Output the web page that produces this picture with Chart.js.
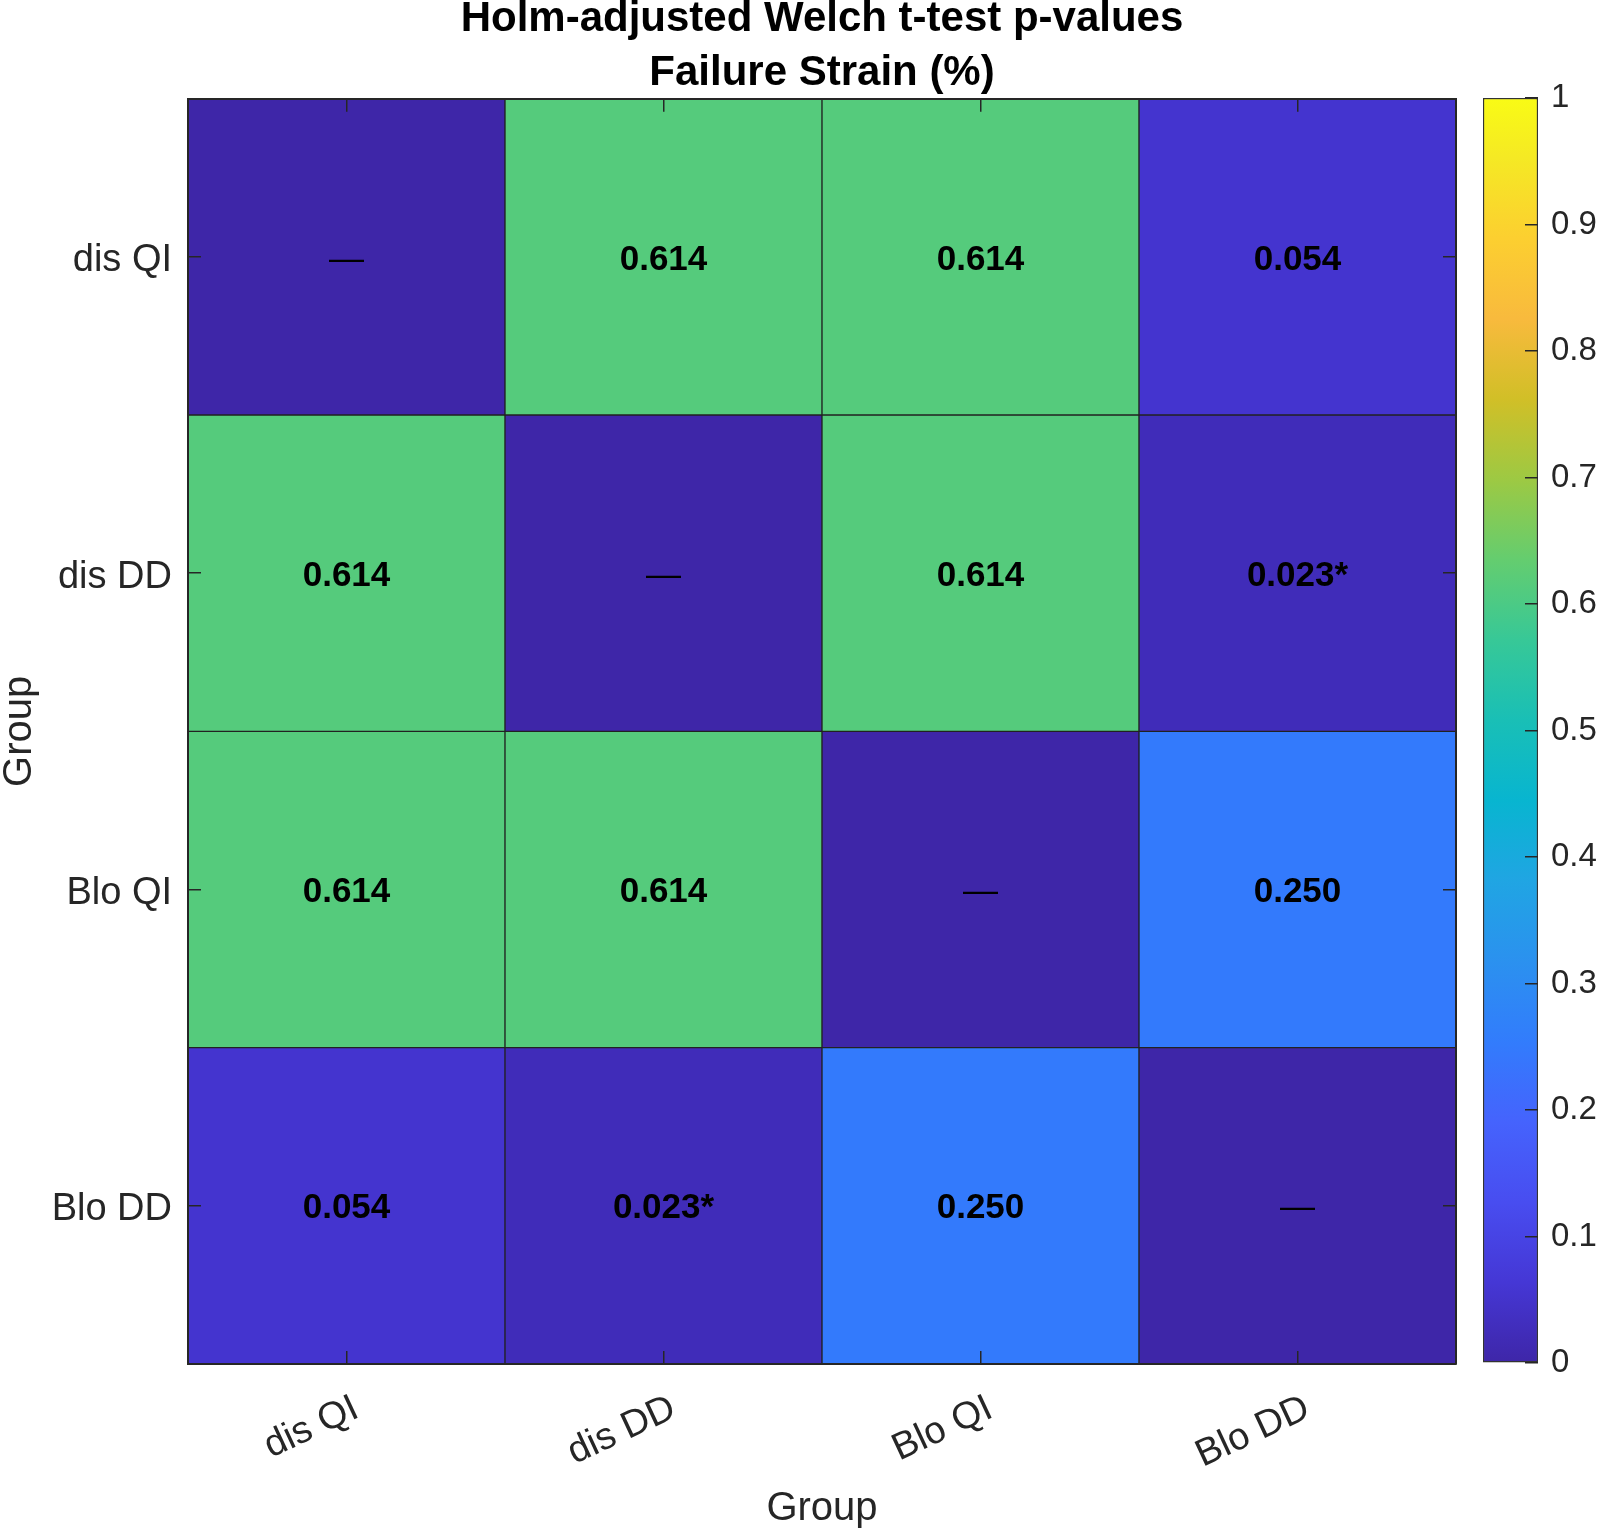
<!DOCTYPE html>
<html>
<head>
<meta charset="utf-8">
<script src="https://cdn.jsdelivr.net/npm/chart.js@4.4.1/dist/chart.umd.min.js"></script>
<style>
  html, body { margin: 0; padding: 0; background: #fff; }
  #wrap { position: relative; width: 1600px; height: 1530px; }
  #heatmap { position: absolute; left: 0; top: 0; width: 1600px; height: 1530px; }
  #colorbar { position: absolute; left: 1400px; top: 0; width: 200px; height: 1530px; }
</style>
</head>
<body>
<div id="wrap">
  <canvas id="heatmap" width="1600" height="1530"></canvas>
  <canvas id="colorbar" width="200" height="1530"></canvas>
</div>
<script>
const groups = ['dis QI', 'dis DD', 'Blo QI', 'Blo DD'];

// Holm-adjusted p-values, rows top to bottom, columns left to right (null = diagonal)
const pRow1 = [null, 0.614, 0.614, 0.054];
const pRow2 = [0.614, null, 0.614, 0.023];
const pRow3 = [0.614, 0.614, null, 0.250];
const pRow4 = [0.054, 0.023, 0.250, null];
const pValues = [pRow1, pRow2, pRow3, pRow4];

const colorbarTicks = [0, 0.1, 0.2, 0.3, 0.4, 0.5, 0.6, 0.7, 0.8, 0.9, 1];
const colorbarLabels = ['0', '0.1', '0.2', '0.3', '0.4', '0.5', '0.6', '0.7', '0.8', '0.9', '1'];

const titleLines = ['Holm-adjusted Welch t-test p-values', 'Failure Strain (%)'];

// parula colormap, every 4th entry of the 64 colour table
const parula = [
  [0.2422, 0.1504, 0.6603], [0.2706, 0.2147, 0.8364], [0.2813, 0.3006, 0.9414],
  [0.2699, 0.3892, 0.9906], [0.1963, 0.4847, 0.9892], [0.1687, 0.5703, 0.9359],
  [0.1248, 0.6459, 0.8883], [0.0297, 0.7082, 0.8163], [0.0964, 0.7500, 0.7120],
  [0.2161, 0.7843, 0.5923], [0.3909, 0.8029, 0.4354], [0.6174, 0.7876, 0.2612],
  [0.8203, 0.7498, 0.1535], [0.9728, 0.7298, 0.2394], [0.9892, 0.8136, 0.1885],
  [0.9597, 0.9135, 0.1423], [0.9769, 0.9839, 0.0805]
];
const parulaPos = parula.map((c, i) => Math.min(1, (i * 4) / 63));

function parulaColor(v) {
  v = Math.max(0, Math.min(1, v));
  let i = 0;
  while (i < parulaPos.length - 2 && v > parulaPos[i + 1]) i++;
  const t = (v - parulaPos[i]) / (parulaPos[i + 1] - parulaPos[i]);
  const a = parula[i], b = parula[i + 1];
  const rgb = a.map((x, k) => Math.round((x + (b[k] - x) * t) * 255));
  return 'rgb(' + rgb.join(',') + ')';
}

function cellText(v) {
  if (v === null) return '\u2014';
  return v.toFixed(3) + (v < 0.05 ? '*' : '');
}

const FONT = '"Liberation Sans", Arial, Helvetica, sans-serif';
Chart.defaults.font.family = FONT;
Chart.defaults.color = '#262626';

const rowTicks = groups.map((g, i) => ({ value: i + 0.5 }));

const cellLabels = {
  id: 'cellLabels',
  afterDatasetsDraw(chart) {
    const ctx = chart.ctx;
    ctx.save();
    ctx.textAlign = 'center';
    ctx.textBaseline = 'middle';
    ctx.fillStyle = '#000';
    chart.data.datasets.forEach((ds, r) => {
      chart.getDatasetMeta(r).data.forEach((bar, c) => {
        const v = pValues[r][c];
        const p = bar.getCenterPoint();
        ctx.font = (v === null ? '' : 'bold ') + '35px ' + FONT;
        ctx.fillText(cellText(v), p.x, p.y + 3);
      });
    });
    ctx.restore();
  }
};

// tick marks point inwards and are drawn over the cells
const tickGrid = {
  drawOnChartArea: false,
  tickLength: -13,
  color: '#262626',
  lineWidth: 1.5,
  z: 1
};
const edge = { display: true, color: '#262626', width: 2, z: 1 };

new Chart(document.getElementById('heatmap'), {
  type: 'bar',
  data: {
    labels: groups,
    datasets: pValues.map((row, r) => ({
      label: groups[r],
      data: row.map(() => [r, r + 1]),
      backgroundColor: row.map(v => parulaColor(v === null ? 0 : v)),
      borderColor: '#222222',
      borderWidth: 1,
      borderSkipped: false,
      barPercentage: 1,
      categoryPercentage: 1,
      grouped: false
    }))
  },
  options: {
    responsive: false,
    animation: false,
    events: [],
    layout: { padding: { left: 0, right: 144, top: 0, bottom: 0 } },
    plugins: {
      legend: { display: false },
      tooltip: { enabled: false },
      title: {
        display: true,
        text: titleLines,
        fullSize: false,
        color: '#000',
        font: { size: 42, weight: 'bold', lineHeight: 1.27 },
        padding: { top: -7, bottom: -1 }
      }
    },
    scales: {
      x: {
        type: 'category',
        position: 'bottom',
        offset: true,
        grid: Object.assign({ offset: false }, tickGrid),
        border: edge,
        ticks: {
          autoSkip: false,
          minRotation: 25,
          maxRotation: 25,
          padding: 35,
          labelOffset: 10,
          font: { size: 38 }
        },
        title: {
          display: true,
          text: 'Group',
          font: { size: 40, lineHeight: 1 },
          padding: { top: 0, bottom: 1 }
        },
        afterFit: s => { s.height = 166; }
      },
      xTop: {
        type: 'category',
        position: 'top',
        offset: true,
        grid: Object.assign({ offset: false }, tickGrid),
        border: edge,
        ticks: { display: false },
        afterFit: s => { s.height = 0; }
      },
      y: {
        type: 'linear',
        position: 'left',
        min: 0,
        max: 4,
        reverse: true,
        grid: tickGrid,
        border: edge,
        afterBuildTicks: s => { s.ticks = rowTicks.map(t => ({ value: t.value })); },
        ticks: {
          padding: 29,
          labelOffset: 4,
          font: { size: 38 },
          callback: v => groups[Math.floor(v)]
        },
        title: {
          display: true,
          text: 'Group',
          font: { size: 40, lineHeight: 1 },
          padding: { top: 0, bottom: 0 }
        },
        afterFit: s => { s.width = 188; }
      },
      yRight: {
        type: 'linear',
        position: 'right',
        min: 0,
        max: 4,
        reverse: true,
        grid: tickGrid,
        border: edge,
        afterBuildTicks: s => { s.ticks = rowTicks.map(t => ({ value: t.value })); },
        ticks: { display: false },
        afterFit: s => { s.width = 0; }
      }
    }
  },
  plugins: [cellLabels]
});

function colorbarFill(ctx) {
  const area = ctx.chart.chartArea;
  if (!area) return parulaColor(0);
  const g = ctx.chart.ctx.createLinearGradient(0, area.bottom, 0, area.top);
  parula.forEach((c, i) => {
    g.addColorStop(parulaPos[i], parulaColor(parulaPos[i]));
  });
  return g;
}

new Chart(document.getElementById('colorbar'), {
  type: 'bar',
  data: {
    labels: [''],
    datasets: [{
      data: [[colorbarTicks[0], colorbarTicks[colorbarTicks.length - 1]]],
      backgroundColor: colorbarFill,
      borderColor: '#333333',
      borderWidth: 1.5,
      borderSkipped: false,
      barPercentage: 1,
      categoryPercentage: 1
    }]
  },
  options: {
    responsive: false,
    animation: false,
    events: [],
    layout: { padding: { left: 83, right: 0, top: 98, bottom: 167 } },
    plugins: { legend: { display: false }, tooltip: { enabled: false } },
    scales: {
      x: { display: false },
      y: {
        position: 'right',
        min: 0,
        max: 1,
        grid: tickGrid,
        border: { display: false },
        afterBuildTicks: s => { s.ticks = colorbarTicks.map(v => ({ value: v })); },
        ticks: {
          padding: 26,
          font: { size: 33 },
          callback: (v, i) => colorbarLabels[i]
        },
        afterFit: s => { s.width = 62; }
      }
    }
  }
});
</script>
</body>
</html>
